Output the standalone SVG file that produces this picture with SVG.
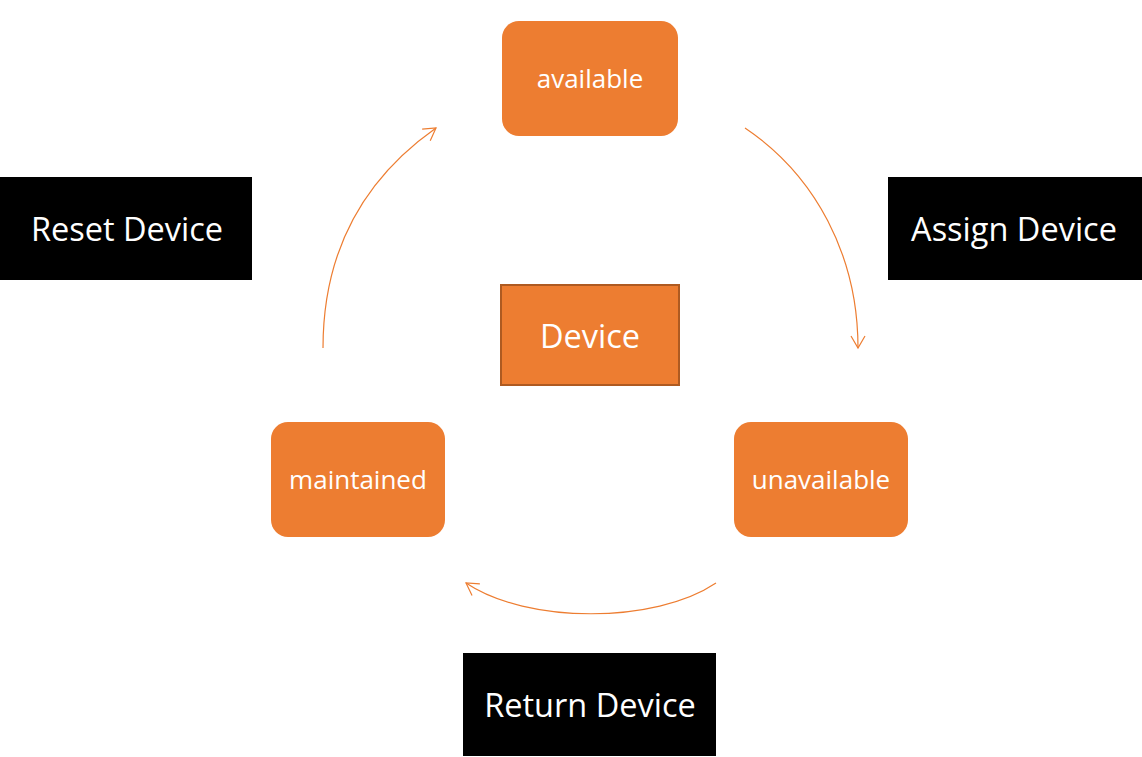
<svg xmlns="http://www.w3.org/2000/svg" width="1142" height="757" viewBox="0 0 1142 757">
<defs>
<style>
.state{fill:#ed7d31}
.lbl{fill:#fff;font-family:"Open Sans","Noto Sans",sans-serif;text-anchor:middle;dominant-baseline:central}
.s{font-size:26px}
.b{font-size:32.5px}
.act{fill:#000}
.conn{fill:none;stroke:#ed7d31;stroke-width:1.2}
</style>
<marker id="ah" viewBox="0 0 20 20" refX="16" refY="10" markerWidth="20" markerHeight="20" markerUnits="userSpaceOnUse" orient="auto">
<path d="M4,3 L16,10 L4,17" fill="none" stroke="#ed7d31" stroke-width="1.2"/>
</marker>
</defs>
<rect width="1142" height="757" fill="#fff"/>
<g id="connectors">
<path class="conn" d="M323,348 C323,250 365,178 436,128" marker-end="url(#ah)"/>
<path class="conn" d="M745,128 C815,175 858,255 858,348" marker-end="url(#ah)"/>
<path class="conn" d="M716,583 C655,624 527,624 466,583" marker-end="url(#ah)"/>
</g>
<g id="available"><rect class="state" x="502" y="21" width="176" height="115" rx="17"/><text class="lbl s" x="590" y="78">available</text></g>
<g id="device"><rect x="501" y="285" width="178" height="100" fill="#ed7d31" stroke="#ae5a21" stroke-width="2"/><text class="lbl b" x="590" y="335">Device</text></g>
<g id="maintained"><rect class="state" x="271" y="422" width="174" height="115" rx="17"/><text class="lbl s" x="358" y="479">maintained</text></g>
<g id="unavailable"><rect class="state" x="734" y="422" width="174" height="115" rx="17"/><text class="lbl s" x="821" y="479">unavailable</text></g>
<g id="reset"><rect class="act" x="0" y="177" width="252" height="103"/><text class="lbl b" x="127" y="228">Reset Device</text></g>
<g id="assign"><rect class="act" x="888" y="177" width="254" height="103"/><text class="lbl b" x="1014" y="228">Assign Device</text></g>
<g id="return"><rect class="act" x="463" y="653" width="253" height="103"/><text class="lbl b" x="590" y="704">Return Device</text></g>
</svg>
